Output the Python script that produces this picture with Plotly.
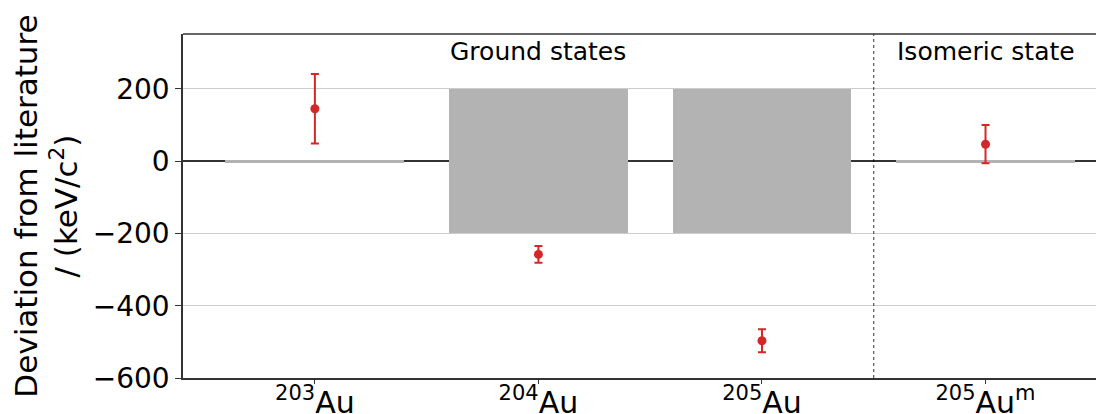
import plotly.graph_objects as go

# Data
categories = ["203Au", "204Au", "205Au", "205Aum"]
tick_labels = ["<sup>203</sup>Au", "<sup>204</sup>Au", "<sup>205</sup>Au", "<sup>205</sup>Au<sup>m</sup>"]
deviation = [145, -258, -497, 47]
deviation_err = [96, 23, 32, 53]
lit_uncertainty = [4, 200, 200, 4]
group_labels = ["Ground states", "Isomeric state"]
group_centers = [1, 3]
group_label_y = 303
divider_x = 2.5

xpos = list(range(len(categories)))

fig = go.Figure()

fig.add_trace(go.Bar(
    x=xpos,
    y=[2 * u for u in lit_uncertainty],
    base=[-u for u in lit_uncertainty],
    width=0.8,
    marker=dict(color="#b3b3b3", line=dict(width=0)),
    showlegend=False,
    hoverinfo="skip",
))

fig.add_trace(go.Scatter(
    x=xpos, y=deviation,
    mode="markers",
    marker=dict(color="#d62728", size=9),
    error_y=dict(type="data", array=deviation_err, color="#d62728", thickness=2, width=4),
    showlegend=False,
))

fig.add_shape(type="line", xref="x", x0=divider_x, x1=divider_x, yref="paper", y0=0, y1=1,
              line=dict(color="black", width=0.8, dash="dot"))

for lab, cx in zip(group_labels, group_centers):
    fig.add_annotation(x=cx, y=group_label_y, text=lab, showarrow=False,
                       font=dict(size=25, color="black"), xanchor="center", yanchor="middle")

fig.update_layout(
    width=1096, height=406,
    margin=dict(l=175, r=0, t=26, b=36),
    paper_bgcolor="white", plot_bgcolor="white",
    font=dict(family="DejaVu Sans", color="black"),
    bargap=0,
)

fig.update_xaxes(
    range=[-0.59, 3.53],
    tickvals=xpos, ticktext=tick_labels,
    tickfont=dict(size=30),
    ticks="outside", ticklen=4, tickcolor="#333",
    ticklabelstandoff=-7,
    showline=True, linecolor="#333", linewidth=1.5, mirror=False,
    showgrid=False, zeroline=False,
    automargin=False,
)
fig.update_yaxes(
    range=[-600, 352],
    tickvals=[-600, -400, -200, 0, 200],
    ticktext=["\u2212600", "\u2212400", "\u2212200", "0", "200"],
    tickfont=dict(size=28),
    ticks="outside", ticklen=6, tickcolor="#333",
    showline=True, linecolor="#333", linewidth=1.5,
    showgrid=True, gridcolor="#cccccc", gridwidth=1,
    zeroline=True, zerolinecolor="#333333", zerolinewidth=1.5,
    title=dict(text="Deviation from literature<br>/ (keV/c<sup>2</sup>)", font=dict(size=31), standoff=8),
    automargin=False,
)
# top spine
fig.add_shape(type="line", xref="paper", x0=0, x1=1, yref="paper", y0=1, y1=1,
              line=dict(color="#333", width=1.5))

fig.write_html("out.html")
